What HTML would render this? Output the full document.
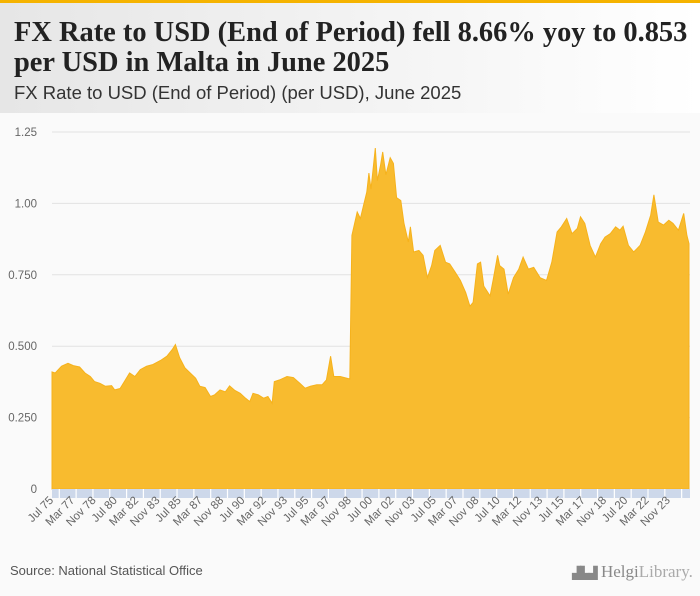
<!DOCTYPE html>
<html><head><meta charset="utf-8">
<style>
body{margin:0;width:700px;height:596px;background:#fafafa;font-family:"Liberation Sans",sans-serif;overflow:hidden;position:relative}
#topbar{position:absolute;left:0;top:0;width:700px;height:3px;background:#f5b300}
#header{position:absolute;left:0;top:3px;width:700px;height:110px;background:linear-gradient(90deg,#e6e6e6,#ffffff)}
#title{position:absolute;left:14px;top:14px;font-family:"Liberation Serif",serif;font-weight:bold;font-size:29px;line-height:30px;color:#222;transform:scaleX(0.98);transform-origin:left top;white-space:nowrap}
#subtitle{position:absolute;left:14px;top:79px;font-size:18.5px;color:#333;transform:scaleX(1.0);transform-origin:left top;white-space:nowrap}
#source{position:absolute;left:10px;top:563px;font-size:13px;color:#555}
#logo{position:absolute;left:572px;top:562px;font-family:"Liberation Serif",serif;font-size:17px;color:#888;white-space:nowrap}
</style></head><body>
<div id="topbar"></div>
<div id="header">
<div id="title">FX Rate to USD (End of Period) fell 8.66% yoy to 0.853<br>per USD in Malta in June 2025</div>
<div id="subtitle">FX Rate to USD (End of Period) (per USD), June 2025</div>
</div>
<svg id="chart" width="700" height="596" style="position:absolute;left:0;top:0"></svg>
<div id="source">Source: National Statistical Office</div>
<div id="logo"><span style="font-size:12px;letter-spacing:-1px">▟▙▟</span> Helgi<span style="color:#aaa">Library.</span></div>
<script>
const months=[0,3,9,15,20,26,31,36,40,45,50,56,59,64,69,73,78,83,89,95,102,108,113,116,120,125,130,135,139,144,149,153,158,163,167,172,177,182,186,189,194,199,203,207,209,214,221,227,233,238,243,249,254,258,262,265,271,280,282,287,290,293,296,298,300,304,306,309,311,314,318,321,324,328,331,335,337,340,345,349,353,357,360,365,370,374,379,384,389,393,396,400,403,406,412,415,419,421,425,429,434,439,443,448,453,459,465,470,475,479,484,489,494,497,501,506,511,516,520,525,530,534,537,542,547,553,558,563,566,570,575,580,584,589,594,597,599];
const values=[0.41,0.406,0.43,0.44,0.432,0.427,0.406,0.394,0.376,0.37,0.36,0.362,0.347,0.352,0.382,0.406,0.394,0.418,0.43,0.436,0.45,0.465,0.488,0.506,0.46,0.424,0.406,0.388,0.36,0.355,0.324,0.33,0.347,0.34,0.361,0.345,0.335,0.318,0.306,0.335,0.33,0.318,0.324,0.3,0.376,0.382,0.394,0.39,0.37,0.353,0.36,0.365,0.365,0.382,0.465,0.394,0.394,0.385,0.888,0.97,0.947,0.994,1.04,1.106,1.05,1.194,1.08,1.135,1.18,1.1,1.16,1.14,1.02,1.01,0.93,0.865,0.918,0.83,0.835,0.818,0.74,0.782,0.835,0.853,0.794,0.788,0.76,0.73,0.688,0.64,0.653,0.788,0.794,0.71,0.676,0.735,0.818,0.782,0.77,0.682,0.74,0.77,0.812,0.77,0.776,0.74,0.73,0.794,0.9,0.918,0.947,0.894,0.912,0.953,0.93,0.853,0.812,0.859,0.882,0.894,0.918,0.906,0.92,0.853,0.83,0.853,0.9,0.959,1.03,0.935,0.924,0.941,0.93,0.906,0.965,0.888,0.859];
const tickLabels=["Jul 75","Mar 77","Nov 78","Jul 80","Mar 82","Nov 83","Jul 85","Mar 87","Nov 88","Jul 90","Mar 92","Nov 93","Jul 95","Mar 97","Nov 98","Jul 00","Mar 02","Nov 03","Jul 05","Mar 07","Nov 08","Jul 10","Mar 12","Nov 13","Jul 15","Mar 17","Nov 18","Jul 20","Mar 22","Nov 23"];
const yTicks=[0,0.25,0.5,0.75,1,1.25];
const yTickLabels=["0","0.250","0.500","0.750","1.00","1.25"];
const NS="http://www.w3.org/2000/svg";
const svg=document.getElementById('chart');
const X0=52,X1=689,Y0=489,YTOP=132,totalMonths=599;
function xs(m){return X0+(X1-X0)*m/totalMonths;}
function ys(v){return Y0-(Y0-YTOP)*v/1.25;}
function mk(t,a){const e=document.createElementNS(NS,t);for(const k in a)e.setAttribute(k,a[k]);svg.appendChild(e);return e;}
yTicks.forEach((v,i)=>{
 if(v>0){const g=mk('line',{x1:X0,x2:690,y1:ys(v),y2:ys(v),stroke:'#e2e2e2','stroke-width':1});
 
 }
 const t=mk('text',{x:37,y:ys(v)+4,'text-anchor':'end','font-size':11.5,fill:'#666','font-family':'Liberation Sans, sans-serif'});
 t.textContent=yTickLabels[i];
 
 
});
let d='M'+xs(months[0])+','+Y0;
months.forEach((m,i)=>{d+=' L'+xs(m).toFixed(1)+','+ys(values[i]).toFixed(1);});
d+=' L'+xs(months[months.length-1])+','+Y0+' Z';
const area=mk('path',{d:d,fill:'#f8bb2f',stroke:'#f6b21c','stroke-width':1});


const band=mk('rect',{x:X0,y:Y0,width:X1-X0+1,height:9,fill:'#cdd8ea'});


for(let x=59.3;x<X1;x+=16.82){
 const tk=mk('line',{x1:x,x2:x,y1:Y0,y2:Y0+9,stroke:'#fff','stroke-width':1.2});
 
 
}
tickLabels.forEach((lab,i)=>{
 const x=xs(i*20)+2,y=Y0+12;
 const t=mk('text',{x:x,y:y,'text-anchor':'end','font-size':11.5,fill:'#666','font-family':'Liberation Sans, sans-serif',transform:'rotate(-45 '+x+' '+y+')'});
 t.textContent=lab;
 
 
});
</script>
</body></html>
